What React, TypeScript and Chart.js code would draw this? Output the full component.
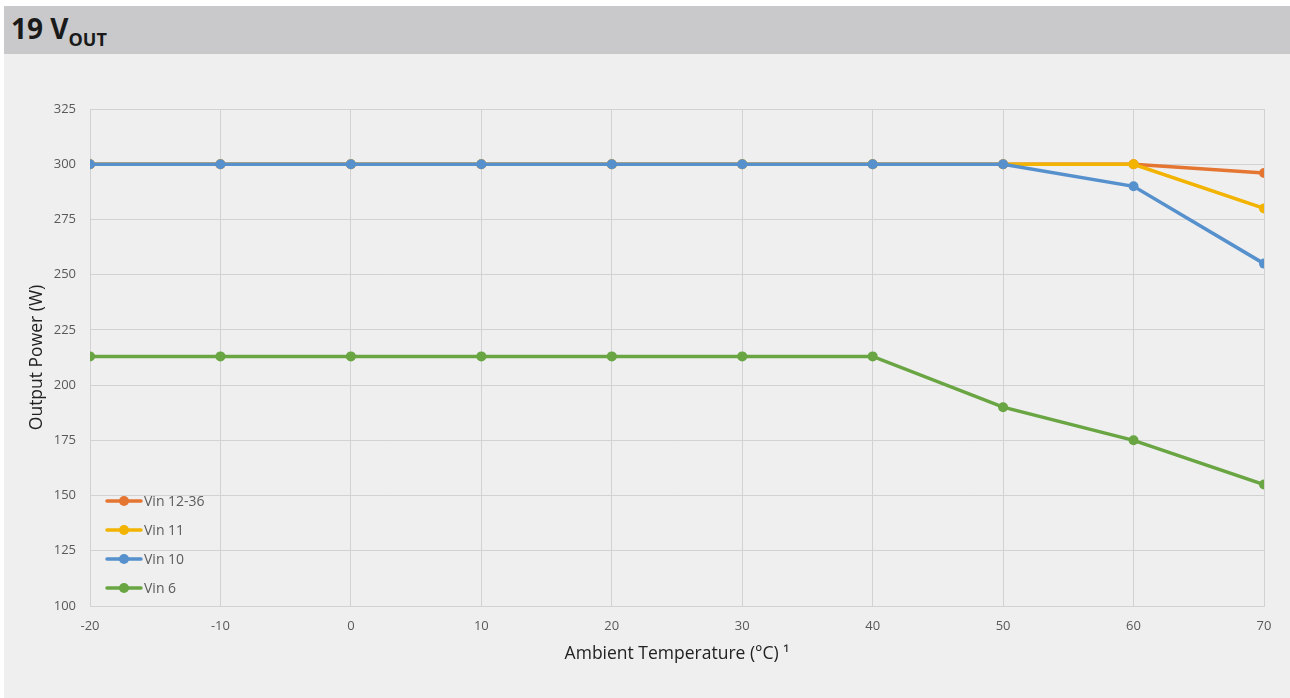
import React, { useEffect, useRef } from "react";
import { Chart, registerables } from "chart.js";

Chart.register(...registerables);

const temperatures = [-20, -10, 0, 10, 20, 30, 40, 50, 60, 70];
const vin1236 = [300, 300, 300, 300, 300, 300, 300, 300, 300, 296];
const vin11 = [300, 300, 300, 300, 300, 300, 300, 300, 300, 280];
const vin10 = [300, 300, 300, 300, 300, 300, 300, 300, 290, 255];
const vin6 = [213, 213, 213, 213, 213, 213, 213, 190, 175, 155];
const seriesLabels = ["Vin 12-36", "Vin 11", "Vin 10", "Vin 6"];
const seriesColors = ["#E57632", "#F2B400", "#5690CD", "#69A542"];

const FONT = "'Open Sans', 'Noto Sans', sans-serif";

const legendPlugin = {
  id: "insideLegend",
  afterDatasetsDraw(chart: any) {
    const { ctx, chartArea } = chart;
    const x0 = chartArea.left + 17;
    const yStart = chartArea.bottom - 105;
    const step = 29;
    ctx.save();
    seriesLabels.forEach((label, i) => {
      const y = yStart + i * step;
      const c = seriesColors[i];
      ctx.strokeStyle = c;
      ctx.lineWidth = 3.5;
      ctx.lineCap = "round";
      ctx.beginPath();
      ctx.moveTo(x0, y);
      ctx.lineTo(x0 + 34, y);
      ctx.stroke();
      ctx.fillStyle = c;
      ctx.beginPath();
      ctx.arc(x0 + 17, y, 5, 0, Math.PI * 2);
      ctx.fill();
      ctx.fillStyle = "#5b5b5b";
      ctx.font = `14px ${FONT}`;
      ctx.textBaseline = "middle";
      ctx.textAlign = "left";
      ctx.fillText(label, x0 + 37, y + 1);
    });
    ctx.restore();
  },
};

export default function App() {
  const ref = useRef<HTMLCanvasElement>(null);

  useEffect(() => {
    document.body.style.margin = "0";
    const mk = (i: number, data: number[], order: number) => ({
      label: seriesLabels[i],
      data,
      borderColor: seriesColors[i],
      backgroundColor: seriesColors[i],
      borderWidth: 3.5,
      pointRadius: 5,
      pointHoverRadius: 5,
      pointBorderWidth: 0,
      tension: 0,
      order,
    });
    const chart = new Chart(ref.current!, {
      type: "line",
      data: {
        labels: temperatures,
        datasets: [
          mk(0, vin1236, 4),
          mk(1, vin11, 3),
          mk(2, vin10, 2),
          mk(3, vin6, 1),
        ],
      },
      options: {
        animation: false,
        responsive: false,
        maintainAspectRatio: false,
        layout: { padding: { left: 23, right: 26, top: 55, bottom: 0 } },
        plugins: {
          legend: { display: false },
          tooltip: { enabled: false },
        },
        scales: {
          x: {
            type: "linear",
            min: -20,
            max: 70,
            afterFit: (s: any) => {
              s.height = 92;
            },
            ticks: {
              stepSize: 10,
              color: "#595959",
              font: { size: 13, family: FONT },
              padding: 12,
            },
            grid: { color: "#d2d2d2", lineWidth: 1, drawTicks: false },
            border: { color: "#d2d2d2", width: 1 },
            title: {
              display: true,
              text: "Ambient Temperature (°C) ¹",
              color: "#222222",
              font: { size: 17.5, family: FONT },
              padding: { top: 0, bottom: 33 },
            },
          },
          y: {
            min: 100,
            max: 325,
            afterFit: (s: any) => {
              s.width = 63;
            },
            ticks: {
              stepSize: 25,
              color: "#595959",
              font: { size: 13, family: FONT },
              padding: 14,
            },
            grid: { color: "#d2d2d2", lineWidth: 1, drawTicks: false },
            border: { color: "#d2d2d2", width: 1 },
            title: {
              display: true,
              text: "Output Power (W)",
              color: "#222222",
              font: { size: 17.5, family: FONT },
              padding: { top: 0, bottom: 0 },
            },
          },
        },
      },
      plugins: [legendPlugin],
    });
    return () => chart.destroy();
  }, []);

  return (
    <div style={{ position: "relative", width: 1290, height: 698, background: "#ffffff" }}>
      <div
        style={{
          position: "absolute",
          left: 4,
          top: 6,
          width: 1286,
          height: 48,
          background: "#c9c9cb",
          fontFamily: FONT,
          fontWeight: 700,
          color: "#1a1a1a",
          boxSizing: "border-box",
          paddingLeft: 7,
          paddingTop: 3,
          fontSize: 28,
          lineHeight: "38px",
        }}
      >
        19 V
        <span style={{ fontSize: 18, position: "relative", top: 7 }}>OUT</span>
      </div>
      <div
        style={{
          position: "absolute",
          left: 4,
          top: 54,
          width: 1286,
          height: 644,
          background: "#efefef",
        }}
      >
        <canvas ref={ref} width={1286} height={644} style={{ display: "block", width: 1286, height: 644 }} />
      </div>
    </div>
  );
}
